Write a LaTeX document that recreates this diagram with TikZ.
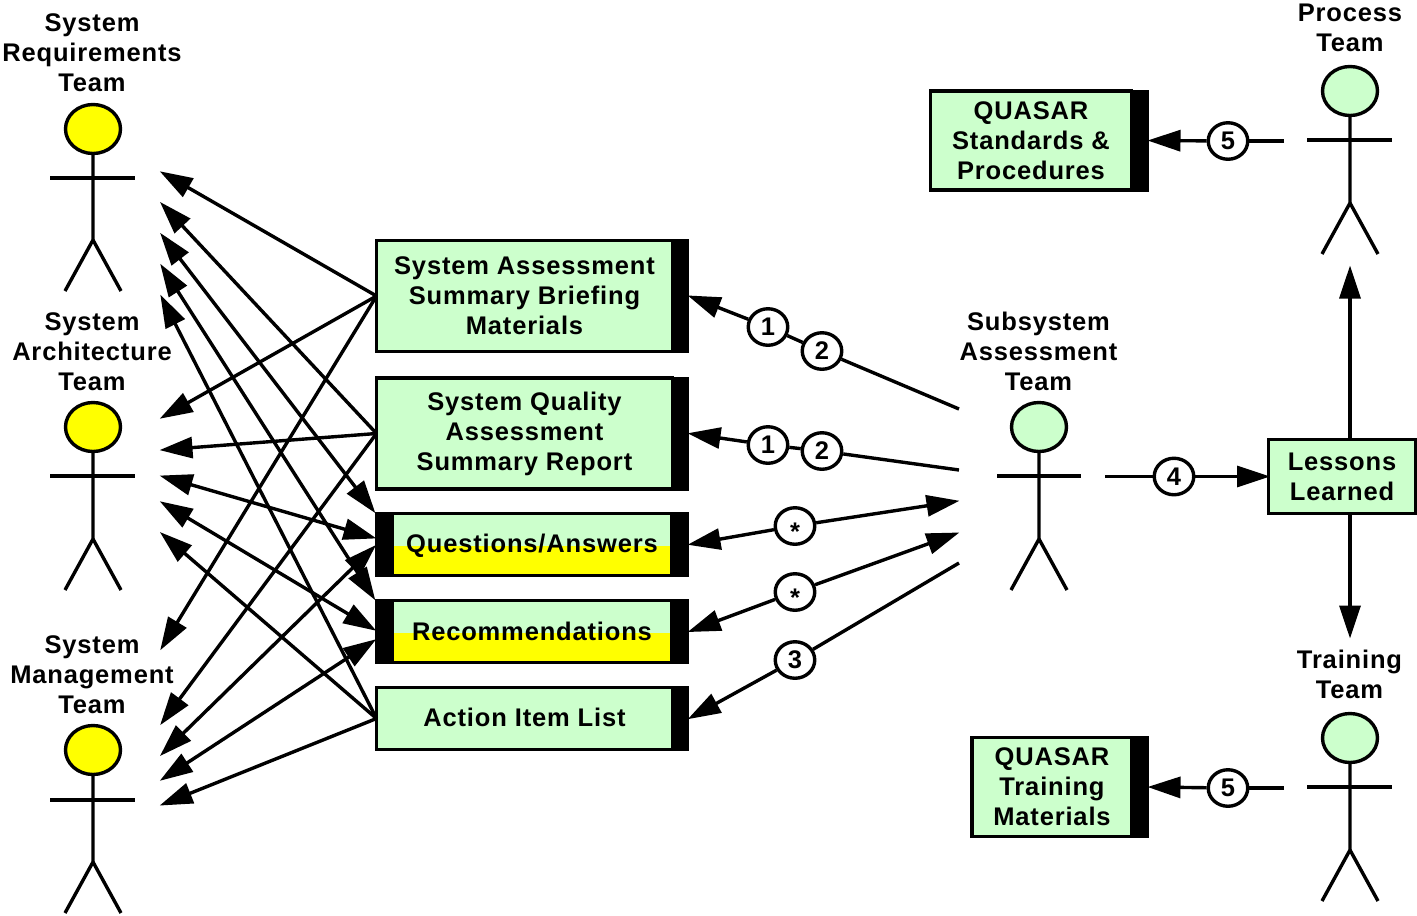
\documentclass[tikz,border=0pt]{standalone}
\usepackage{fontspec}
\setmainfont{Liberation Sans}[LetterSpace=3.3]
\usetikzlibrary{arrows.meta,shapes.geometric}

\definecolor{paleGreen}{HTML}{CCFFCC}
\definecolor{brightYellow}{HTML}{FFFF00}

\tikzset{
  word/.style={font=\fontsize{25.5}{30}\selectfont\bfseries, align=center, inner sep=0pt},
  box/.style={word, draw, line width=3.4pt, fill=paleGreen, outer sep=0pt},
  halfbox/.style={box, path picture={\fill[brightYellow] ([yshift=-1.5pt]path picture bounding box.east) rectangle (path picture bounding box.south west);}},
  bar/.style={fill=black, inner sep=0pt, outer sep=0pt, minimum width=17pt},
  num/.style={word, ellipse, draw, line width=3.4pt, fill=white, minimum width=39.5pt, minimum height=36.5pt},
  yellowhead/.style={ellipse, draw, line width=3.4pt, fill=brightYellow, minimum width=55pt, minimum height=49pt, inner sep=0pt, outer sep=0pt},
  greenhead/.style={yellowhead, fill=paleGreen},
  stick/.style={line width=3.4pt},
  conn/.style={line width=3.4pt},
  toend/.style={conn, shorten >=-1.5pt, -{Triangle[length=33pt,width=21pt]}},
  both/.style={conn, shorten >=-1.5pt, shorten <=-1.5pt, {Triangle[length=33pt,width=21pt]}-{Triangle[length=33pt,width=21pt]}}
}

\begin{document}
\begin{tikzpicture}[x=1pt,y=-1pt]
\useasboundingbox (0,0) rectangle (1417,916);

% actors on the left
\node[word] (reqLabel) at (92,53) {System\\Requirements\\Team};
\node[yellowhead] (reqHead) at (93,129) {};
\draw[stick] (reqHead) -- (93,240) -- (65,291);
\draw[stick] (93,240) -- (121,291);
\draw[stick] (50,178) -- (135,178);

\node[word] (archLabel) at (92,352) {System\\Architecture\\Team};
\node[yellowhead] (archHead) at (93,427) {};
\draw[stick] (archHead) -- (93,539) -- (65,590);
\draw[stick] (93,539) -- (121,590);
\draw[stick] (50,476) -- (135,476);

\node[word] (mgtLabel) at (92,675) {System\\Management\\Team};
\node[yellowhead] (mgtHead) at (93,750) {};
\draw[stick] (mgtHead) -- (93,862) -- (65,913);
\draw[stick] (93,862) -- (121,913);
\draw[stick] (50,800) -- (135,800);

% actors on the right
\node[word] (subLabel) at (1038.5,351) {Subsystem\\Assessment\\Team};
\node[greenhead] (subHead) at (1039,427) {};
\draw[stick] (subHead) -- (1039,539) -- (1011,590);
\draw[stick] (1039,539) -- (1067,590);
\draw[stick] (997,476) -- (1081,476);

\node[word] (procLabel) at (1350,28) {Process\\Team};
\node[greenhead] (procHead) at (1350,91) {};
\draw[stick] (procHead) -- (1350,203) -- (1322,254);
\draw[stick] (1350,203) -- (1378,254);
\draw[stick] (1307,140) -- (1392,140);

\node[word] (trainLabel) at (1349.5,674) {Training\\Team};
\node[greenhead] (trainHead) at (1350,738) {};
\draw[stick] (trainHead) -- (1350,850) -- (1322,901);
\draw[stick] (1350,850) -- (1378,901);
\draw[stick] (1307,787) -- (1392,787);

% boxes
\node[box, minimum width=296pt, minimum height=111pt] (brief) at (524.5,296) {System Assessment\\Summary Briefing\\Materials};
\node[bar, minimum height=114pt] (briefBar) at (680.5,296) {};
\node[box, minimum width=296pt, minimum height=111pt] (report) at (524.5,433.5) {System Quality\\Assessment\\Summary Report};
\node[bar, minimum height=114pt] (reportBar) at (680.5,433.5) {};
\node[halfbox, minimum width=280pt, minimum height=62pt] (qa) at (532,544.5) {\raisebox{-7.5pt}[0pt][0pt]{Questions/Answers}};
\node[bar, minimum height=65pt] (qaLeft) at (383,544.5) {};
\node[bar, minimum height=65pt] (qaBar) at (680.5,544.5) {};
\node[halfbox, minimum width=280pt, minimum height=62pt] (recs) at (532,631.5) {Recommendations};
\node[bar, minimum height=65pt] (recsLeft) at (383,631.5) {};
\node[bar, minimum height=65pt] (recsBar) at (680.5,631.5) {};
\node[box, minimum width=296pt, minimum height=62pt] (items) at (524.5,718.5) {\raisebox{-8pt}[0pt][0pt]{Action Item List}};
\node[bar, minimum height=65pt] (itemsBar) at (680.5,718.5) {};

\node[box, minimum width=201.5pt, minimum height=99pt] (standards) at (1031,140.5) {QUASAR\\Standards \&\\Procedures};
\node[bar, minimum height=102pt] (standardsBar) at (1140.5,140.5) {};
\node[box, minimum width=160pt, minimum height=99pt] (materials) at (1052,787) {QUASAR\\Training\\Materials};
\node[bar, minimum height=102pt] (materialsBar) at (1140.5,787) {};
\node[box, minimum width=147pt, minimum height=74pt] (lessons) at (1342,476.5) {Lessons\\Learned};

% numbered circles
\node[num] (numA) at (768,327) {1};
\node[num] (numB) at (822,351) {2};
\node[num] (numC) at (768,445) {1};
\node[num] (numD) at (822,451) {2};
\node[num] (starA) at (795,526) {\raisebox{-14.5pt}[0pt][0pt]{*}};
\node[num] (starB) at (795,592) {\raisebox{-14.5pt}[0pt][0pt]{*}};
\node[num] (numE) at (795,660) {3};
\node[num] (numF) at (1174,476.5) {4};
\node[num] (numG) at (1228,141) {5};
\node[num] (numH) at (1228,788) {5};

% free ends
\coordinate (reqA) at (161,172);
\coordinate (reqB) at (161,203);
\coordinate (reqC) at (161,234);
\coordinate (reqD) at (161,265);
\coordinate (reqE) at (161,296);
\coordinate (archA) at (161,418);
\coordinate (archB) at (161,450);
\coordinate (archC) at (161,476);
\coordinate (archD) at (161,502);
\coordinate (archE) at (161,533);
\coordinate (mgtA) at (161,649);
\coordinate (mgtB) at (161,724);
\coordinate (mgtC) at (161,755);
\coordinate (mgtD) at (161,780);
\coordinate (mgtE) at (161,805);
\coordinate (qaA) at (375,538);
\coordinate (qaB) at (375,546);
\coordinate (recsA) at (375,630);
\coordinate (recsB) at (375,640);
\coordinate (subA) at (959,409);
\coordinate (subB) at (959,470);
\coordinate (subC) at (958,501);
\coordinate (subD) at (958,533);
\coordinate (subE) at (959,563);
\coordinate (subF) at (1105,476.5);
\coordinate (procOut) at (1284,141);
\coordinate (trainOut) at (1284,788);
\coordinate (procIn) at (1350,267);
\coordinate (trainIn) at (1350,637);

% connectors on the left
\draw[toend] (brief.west) -- (reqA);
\draw[toend] (brief.west) -- (archA);
\draw[toend] (brief.west) -- (mgtA);
\draw[toend] (report.west) -- (reqB);
\draw[toend] (report.west) -- (archB);
\draw[toend] (report.west) -- (mgtB);
\draw[both] (reqC) -- (qaLeft.north west);
\draw[both] (archC) -- (qaA);
\draw[both] (mgtC) -- (qaB);
\draw[both] (reqD) -- (recsLeft.north west);
\draw[both] (archD) -- (recsA);
\draw[both] (mgtD) -- (recsB);
\draw[toend] (items.west) -- (reqE);
\draw[toend] (items.west) -- (archE);
\draw[toend] (items.west) -- (mgtE);

% connectors on the right
\draw[conn] (subA) -- (numB);
\draw[conn] (numB) -- (numA);
\draw[toend] (numA) -- (briefBar.east);
\draw[conn] (subB) -- (numD);
\draw[conn] (numD) -- (numC);
\draw[toend] (numC) -- (reportBar.east);
\draw[toend] (starA) -- (subC);
\draw[toend] (starA) -- (qaBar.east);
\draw[toend] (starB) -- (subD);
\draw[toend] (starB) -- (recsBar.east);
\draw[conn] (subE) -- (numE);
\draw[toend] (numE) -- (itemsBar.east);
\draw[conn] (subF) -- (numF);
\draw[toend] (numF) -- (lessons.west);
\draw[conn] (procOut) -- (numG);
\draw[toend] (numG) -- (standardsBar.east);
\draw[conn] (trainOut) -- (numH);
\draw[toend] (numH) -- (materialsBar.east);
\draw[toend] (lessons.north -| procIn) -- (procIn);
\draw[toend] (lessons.south -| trainIn) -- (trainIn);
\end{tikzpicture}
\end{document}
